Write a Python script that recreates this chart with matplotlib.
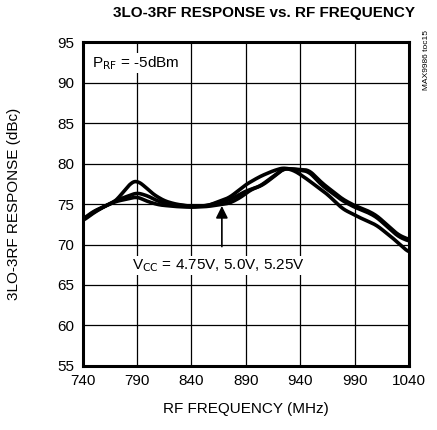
import numpy as np
import matplotlib.pyplot as plt

plt.rcParams['font.family'] = ['Liberation Sans Narrow', 'Liberation Sans', 'DejaVu Sans']

# RF frequency (MHz) and 3LO-3RF response (dBc) for the three supply voltages
freq_a = [740, 750, 760, 770, 778, 785, 790, 797, 805, 815, 825, 840, 855, 865, 875,
          890, 903, 915, 925, 935, 945, 955, 965, 979, 995, 1010, 1025, 1040]
resp_a = [73.1, 74.1, 74.7, 75.3, 76.6, 77.7, 77.9, 77.2, 76.2, 75.4, 75.0, 74.7, 74.8, 75.3, 75.8,
          77.4, 78.4, 79.1, 79.5, 79.1, 78.2, 77.2, 76.2, 74.4, 73.3, 72.4, 70.8, 69.0]

freq_b = [740, 750, 760, 770, 780, 790, 800, 810, 825, 840, 855, 865, 875,
          890, 903, 915, 925, 935, 948, 960, 979, 990, 1000, 1010, 1020, 1030, 1040]
resp_b = [73.0, 74.0, 74.7, 75.4, 75.9, 76.4, 76.0, 75.3, 74.9, 74.7, 74.8, 75.2, 75.5,
          76.6, 77.2, 78.4, 79.4, 79.3, 79.0, 77.3, 75.4, 74.6, 74.1, 73.4, 72.2, 71.0, 70.4]

freq_c = [740, 750, 760, 770, 780, 790, 800, 810, 825, 840, 855, 865, 875, 885,
          895, 905, 915, 925, 935, 948, 960, 979, 990, 1000, 1010, 1020, 1030, 1040]
resp_c = [72.9, 73.9, 74.7, 75.3, 75.6, 75.9, 75.3, 74.9, 74.7, 74.6, 74.7, 74.9, 75.1, 75.8,
          76.8, 77.3, 78.3, 79.4, 79.3, 79.2, 77.6, 75.6, 74.8, 74.3, 73.6, 72.4, 71.2, 70.6]

x_ticks = [740, 790, 840, 890, 940, 990, 1040]
y_ticks = [55, 60, 65, 70, 75, 80, 85, 90, 95]


def smooth(xs, ys):
    # dense linear interpolation followed by a short moving average
    xd = np.linspace(xs[0], xs[-1], 600)
    yd = np.interp(xd, xs, ys)
    k = 8
    pad = np.pad(yd, k, mode='edge')
    yd = np.convolve(pad, np.ones(2 * k + 1) / (2 * k + 1), mode='valid')
    return xd, yd


fig = plt.figure(figsize=(4.37, 4.30), dpi=100)
ax = fig.add_axes([0.189, 0.149, 0.747, 0.753])

for xs, ys in [(freq_a, resp_a), (freq_b, resp_b), (freq_c, resp_c)]:
    xd, yd = smooth(xs, ys)
    ax.plot(xd, yd, color='black', lw=2.6, solid_capstyle='round')

ax.set_xlim(740, 1040)
ax.set_ylim(55, 95)
ax.set_xticks(x_ticks)
ax.set_yticks(y_ticks)
ax.grid(True, color='black', lw=0.9)
ax.tick_params(length=0, labelsize=11, pad=6)
for s in ax.spines.values():
    s.set_linewidth(2.2)

ax.set_xlabel('RF FREQUENCY (MHz)', fontsize=11, labelpad=10)
ax.set_ylabel('3LO-3RF RESPONSE (dBc)', fontsize=11, labelpad=26)
fig.text(0.604, 0.970, '3LO-3RF RESPONSE vs. RF FREQUENCY', ha='center', va='center',
         fontsize=11, fontweight='bold')

ax.text(749, 92.4, r'P$_{\mathrm{RF}}$ = -5dBm', fontsize=11, va='center',
        bbox=dict(facecolor='white', edgecolor='none', pad=1))
ax.text(785, 67.4, r'V$_{\mathrm{CC}}$ = 4.75V, 5.0V, 5.25V', fontsize=11, va='center',
        bbox=dict(facecolor='white', edgecolor='none', pad=1))
ax.annotate('', xy=(868, 75.1), xytext=(868, 69.4),
            arrowprops=dict(arrowstyle='-|>', color='black', lw=1.2, mutation_scale=18))

fig.text(0.977, 0.86, 'MAX9986 toc15', rotation=90, ha='center', va='center', fontsize=6)

fig.savefig('out.png', dpi=100)
